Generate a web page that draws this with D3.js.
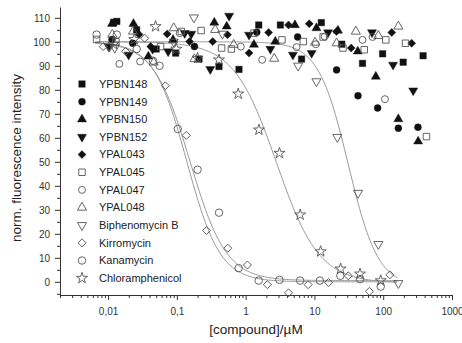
<!DOCTYPE html>
<html>
<head>
<meta charset="utf-8">
<script src="https://cdn.jsdelivr.net/npm/d3@7"></script>
<style>
  body { margin: 0; background: #fff; }
  svg { display: block; font-family: "Liberation Sans", Arial, sans-serif; }
</style>
</head>
<body>
<svg id="chart" width="462" height="343"></svg>
<script>
// values: [concentration in µM, normalised fluorescence]
const ypbn148 = [[0.012,108],[0.0134,108.5],[0.026,105],[0.05,97],[0.096,95.3],[0.21,92.8],[0.41,89.7],[0.8,88.5],[1.55,107],[3.2,107],[6.5,92.8],[12.6,108],[25,99],[50,91],[98,95],[195,91.5],[380,94.2]]
const ypbn149 = [[0.0114,101],[0.0228,99.4],[0.18,98],[1.45,104],[5.7,102],[21,88.3],[43,77.5],[83,72.4],[166,64],[320,64.4]]
const ypbn150 = [[0.0114,107.5],[0.0234,107.5],[0.0385,93.9],[0.088,100.8],[0.35,108],[0.53,106.4],[1.32,98.8],[2.7,100.1],[5.2,107],[10.7,105.7],[22,104.7],[42.7,96],[78,85.5],[166,67.8],[322,58.5]]
const ypbn152 = [[0.0102,98],[0.0199,94.6],[0.0444,97],[0.0747,96],[0.13,103.6],[0.162,103.3],[0.306,88.6],[0.575,110.8],[1.12,102.9],[2.29,97],[4.86,94.6],[9.1,95.3],[15.8,103.9],[68.7,103.9],[139,90.4],[273,79.7]]
const ypal043 = [[0.0282,103],[0.0416,98],[0.0723,103.3],[0.153,100.1],[0.332,100.1],[0.545,102.9],[1.12,95.3],[2.16,103.9],[4.2,107],[8.4,107.5],[20.9,104.3],[34.2,97.4],[133,103.9],[259,99.4]]
const ypal045 = [[0.0068,101],[0.013,100],[0.058,98],[0.116,104.3],[0.225,104.7],[0.447,97.4],[0.62,97],[1.32,103.6],[3.37,100.8],[6.9,100.1],[13.4,102],[26,97.4],[53,96.7],[109,100.8],[211,99.4],[425,60.5]]
const ypal047 = [[0.0146,90.8],[0.0292,91.8],[0.11,103.6],[0.85,98],[1.74,92.5],[5.5,97.8],[10.5,99],[14.1,102.2],[50,100.8],[70,102],[106,76.1]]
const ypal048 = [[0.0115,103],[0.023,104.3],[0.046,91.4],[0.09,105.7],[0.18,92.8],[0.36,105],[0.67,98.8],[2.6,93],[10.2,99.7],[21,99.4],[40,104.3],[85,102.5],[166,106.4]]
const biphenomycinB = [[0.0105,98],[0.0125,97.5],[0.09,100],[0.177,110.1],[0.46,103.3],[5.8,90],[10.7,83.5],[21.5,60.3],[43,37],[85,15.7],[166,-0.6]]
const kirromycin = [[0.0085,98],[0.018,96],[0.034,101.5],[0.068,81.7],[0.137,61],[0.27,21.4],[0.55,14],[1.06,7],[2.07,-1.2],[4.2,-4.6],[8.1,-1.2],[16,-0.3],[31,2.5],[63,-4],[125,2.9]]
const kanamycin = [[0.0068,103],[0.0134,103],[0.026,97],[0.045,92.1],[0.056,90],[0.103,63.7],[0.2,46.7],[0.41,28.8],[0.79,5.7],[1.55,0.5],[3.1,0.8],[6.2,0.5],[12,0.5],[23.8,2.5],[46,1.1],[92,-2]]
const chloramphenicol = [[0.012,99],[0.024,101],[0.049,106.4],[0.098,97],[0.2,93.2],[0.41,92.5],[0.78,78.3],[1.56,63.3],[3.1,53.6],[6.2,27.9],[12.3,12.6],[24,5.4],[46,3.3],[92,0.5]]

// dose-response fits: [IC50 µM, hill slope, bottom]
const kanamycinFit = [0.155, 1.65, 0.5]
const kirromycinFit = [0.14, 1.8, 0]
const chloramphenicolFit = [2.8, 1.4, -0.5]
const biphenomycinFit = [31, 2.0, -2]
const fitRange = [0.0065, 160]

const names = ['YPBN148','YPBN149','YPBN150','YPBN152','YPAL043','YPAL045','YPAL047','YPAL048','Biphenomycin B','Kirromycin','Kanamycin','Chloramphenicol']
const xTicks = [0.01, 0.1, 1, 10, 100, 1000]
const yTicks = [0, 10, 20, 30, 40, 50, 60, 70, 80, 90, 100, 110]

const svg = d3.select('#chart')
const plot = { left: 60, right: 452, top: 7, bottom: 295 }

const x = d3.scaleLog().domain([0.002, 1000]).range([plot.left, plot.right])
const y = d3.scaleLinear().domain([-5.5, 114.5]).range([plot.bottom, plot.top])

// marker shapes
const shapes = {
  square: { type: d3.symbolSquare, size: 42, rot: 0 },
  circle: { type: d3.symbolCircle, size: 38, rot: 0 },
  bigCircle: { type: d3.symbolCircle, size: 44, rot: 0 },
  up: { type: d3.symbolTriangle, size: 36, rot: 0 },
  down: { type: d3.symbolTriangle, size: 36, rot: 180 },
  diamond: { type: d3.symbolSquare, size: 32, rot: 45 },
  star: { type: d3.symbolStar, size: 38, rot: 0 },
}

const series = [
  { data: ypbn148, shape: 'square', filled: true },
  { data: ypbn149, shape: 'circle', filled: true },
  { data: ypbn150, shape: 'up', filled: true },
  { data: ypbn152, shape: 'down', filled: true },
  { data: ypal043, shape: 'diamond', filled: true },
  { data: ypal045, shape: 'square', filled: false },
  { data: ypal047, shape: 'circle', filled: false },
  { data: ypal048, shape: 'up', filled: false },
  { data: biphenomycinB, shape: 'down', filled: false },
  { data: kirromycin, shape: 'diamond', filled: false },
  { data: kanamycin, shape: 'bigCircle', filled: false },
  { data: chloramphenicol, shape: 'star', filled: false },
]
series.forEach((s, i) => (s.name = names[i]))

function symbolPath(shape) {
  const s = shapes[shape]
  return d3.symbol(s.type, s.size)()
}

function styleMarker(sel, s) {
  sel.attr('d', symbolPath(s.shape))
  if (s.filled) sel.attr('fill', '#111').attr('stroke', '#111').attr('stroke-width', 0.4)
  else sel.attr('fill', 'none').attr('stroke', '#555').attr('stroke-width', 0.9)
}

// axes
const axisColor = '#333'
svg.append('g').attr('transform', `translate(${plot.left},0)`)
  .call(d3.axisLeft(y).tickValues(yTicks).tickSize(5).tickSizeOuter(0).tickPadding(5))
svg.append('g').attr('transform', `translate(${plot.left},0)`)
  .call(d3.axisLeft(y).tickValues(d3.range(-5, 115, 10)).tickSize(3).tickFormat(''))
  .call(g => g.select('.domain').remove())

const minor = []
for (let e = -3; e < 3; e++) for (let m = 2; m <= 9; m++) {
  const v = m * Math.pow(10, e)
  if (v >= 0.002 && v <= 1000) minor.push(v)
}
svg.append('g').attr('transform', `translate(0,${plot.bottom})`)
  .call(d3.axisBottom(x).tickValues(xTicks).tickSize(5).tickSizeOuter(0).tickPadding(8)
    .tickFormat(d => String(d).replace('.', ',')))
svg.append('g').attr('transform', `translate(0,${plot.bottom})`)
  .call(d3.axisBottom(x).tickValues(minor).tickSize(3).tickFormat(''))
  .call(g => g.select('.domain').remove())

svg.selectAll('.domain, .tick line').attr('stroke', axisColor).attr('stroke-width', 1)
svg.selectAll('.tick text').attr('fill', '#333').attr('font-size', 10)
  .attr('font-family', '"Liberation Sans", Arial, sans-serif')

// fitted curves
const curve = ([ic50, hill, low]) => c => low + (100 - low) / (1 + Math.pow(c / ic50, hill))
const xs = d3.range(0, 201).map(i => fitRange[0] * Math.pow(fitRange[1] / fitRange[0], i / 200))
const line = d3.line().x(d => x(d[0])).y(d => y(d[1]))
;[kanamycinFit, kirromycinFit, chloramphenicolFit, biphenomycinFit].forEach(p => {
  const f = curve(p)
  svg.append('path')
    .attr('d', line(xs.map(c => [c, f(c)])))
    .attr('fill', 'none').attr('stroke', '#9a9a9a').attr('stroke-width', 1)
})

// points
series.forEach(s => {
  svg.append('g').selectAll('path')
    .data(s.data)
    .join('path')
    .attr('transform', d => `translate(${x(d[0])},${y(d[1])}) rotate(${shapes[s.shape].rot})`)
    .call(sel => styleMarker(sel, s))
})

// legend
const legend = svg.append('g')
series.forEach((s, i) => {
  const ly = 84 + i * 17.65
  legend.append('path').attr('transform', `translate(82,${ly}) rotate(${shapes[s.shape].rot})`)
    .call(sel => styleMarker(sel, s))
  legend.append('text').attr('x', 99).attr('y', ly).attr('dy', '0.35em')
    .attr('font-size', 11).attr('fill', '#222').text(s.name)
})

// axis titles
svg.append('text').attr('transform', 'translate(21,158) rotate(-90)')
  .attr('text-anchor', 'middle').attr('font-size', 13.5).attr('fill', '#222')
  .text('norm. fluorescence intensity')
svg.append('text').attr('x', 256).attr('y', 334)
  .attr('text-anchor', 'middle').attr('font-size', 13.5).attr('fill', '#222')
  .text('[compound]/µM')
</script>
</body>
</html>
